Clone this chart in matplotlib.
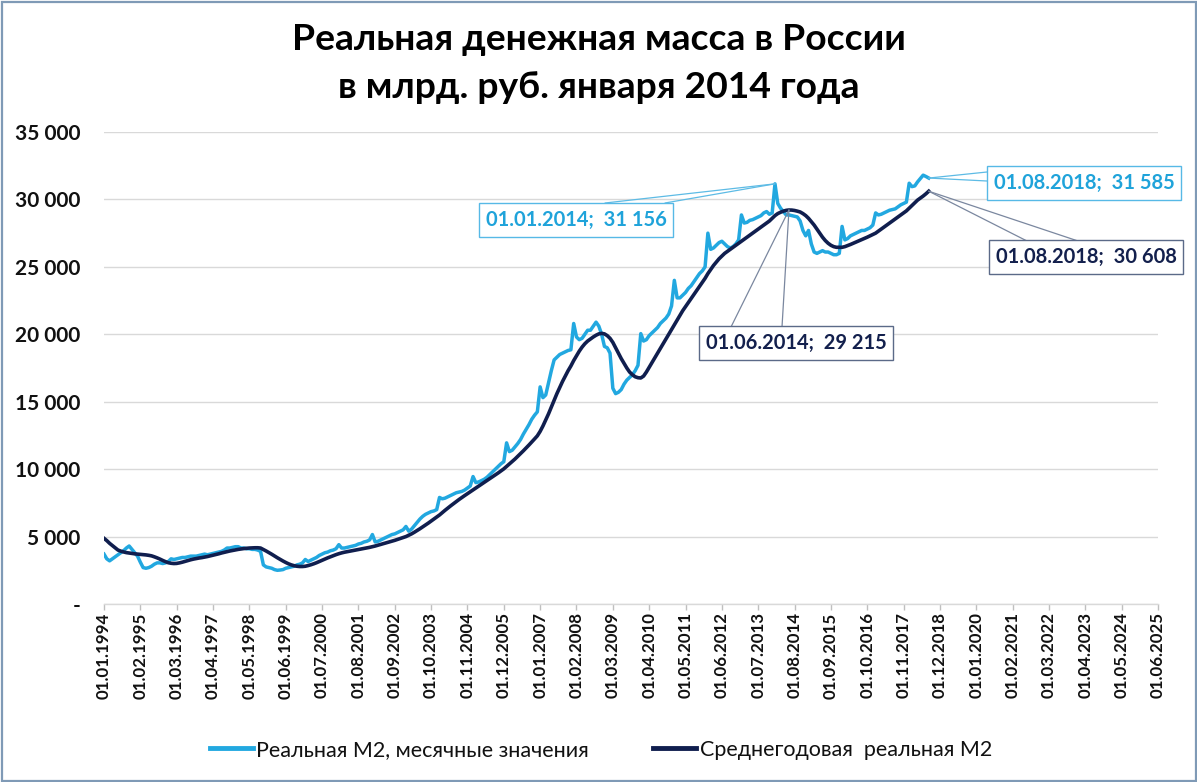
import matplotlib
matplotlib.use("Agg")
import matplotlib.pyplot as plt
import numpy as np
from matplotlib.ticker import FuncFormatter, FixedLocator
from matplotlib.patches import Rectangle

# ---------------- data (monthly, 01.01.1994 .. 01.08.2018) ----------------
start_label = "01.01.1994"
real_m2_monthly = [
    3700, 3350, 3200, 3350, 3500, 3650, 3800, 3950, 4150, 4300, 4050, 3800,          # 1994
    3550, 3100, 2700, 2650, 2700, 2800, 2950, 3050, 3050, 3000, 3050, 3150,          # 1995
    3350, 3300, 3350, 3400, 3450, 3450, 3500, 3550, 3550, 3550, 3600, 3650,          # 1996
    3700, 3650, 3700, 3750, 3800, 3850, 3900, 4000, 4150, 4150, 4200, 4250,          # 1997
    4250, 4150, 4150, 4100, 4100, 4050, 4050, 4000, 3900, 2900, 2750, 2700,          # 1998
    2650, 2550, 2500, 2520, 2550, 2650, 2700, 2750, 2800, 2900, 2950, 3050,          # 1999
    3300, 3150, 3250, 3350, 3450, 3600, 3700, 3800, 3850, 3950, 4000, 4100,          # 2000
    4400, 4150, 4150, 4200, 4250, 4300, 4350, 4450, 4500, 4600, 4650, 4750,          # 2001
    5150, 4600, 4650, 4750, 4850, 4950, 5050, 5150, 5200, 5300, 5400, 5500,          # 2002
    5750, 5400, 5550, 5800, 6050, 6300, 6500, 6650, 6750, 6850, 6900, 7000,          # 2003
    7900, 7800, 7850, 7950, 8050, 8150, 8250, 8300, 8350, 8450, 8600, 8750,          # 2004
    9450, 9000, 9050, 9150, 9250, 9400, 9600, 9800, 10000, 10200, 10400, 10550,      # 2005
    11950, 11300, 11400, 11650, 11900, 12200, 12600, 12950, 13300, 13700, 14000, 14250,  # 2006
    16100, 15300, 15500, 16400, 17300, 18100, 18300, 18500, 18600, 18700, 18800, 18850,  # 2007
    20800, 19800, 19600, 19700, 20000, 20300, 20300, 20600, 20900, 20600, 20000, 19100,  # 2008
    19000, 18600, 16000, 15600, 15700, 15900, 16300, 16600, 16800, 17000, 17300, 17700,  # 2009
    20050, 19500, 19600, 19900, 20100, 20300, 20500, 20800, 21000, 21200, 21500, 22100,  # 2010
    24000, 22700, 22700, 22900, 23100, 23400, 23600, 23900, 24200, 24500, 24700, 25000,  # 2011
    27500, 26300, 26400, 26600, 26800, 26900, 26700, 26500, 26400, 26500, 26700, 27000,  # 2012
    28850, 28250, 28300, 28450, 28500, 28600, 28700, 28800, 29000, 29100, 28900, 29000,  # 2013
    31156, 29700, 29350, 29100, 28850, 28850, 28800, 28750, 28700, 28400, 27700, 27300,  # 2014
    27700, 26700, 26100, 26000, 26100, 26200, 26100, 26100, 26000, 25900, 25900, 26000,  # 2015
    28000, 27000, 27100, 27300, 27400, 27500, 27600, 27700, 27700, 27800, 27900, 28100,  # 2016
    29000, 28850, 28900, 29000, 29100, 29200, 29250, 29300, 29450, 29600, 29700, 29800,  # 2017
    31200, 30950, 31000, 31300, 31550, 31800, 31700, 31585,                              # 2018
]
real_m2_avg = [
    4870, 4700, 4500, 4330, 4150, 4000, 3920, 3860, 3810, 3780, 3750, 3720,          # 1994
    3700, 3680, 3660, 3640, 3610, 3570, 3500, 3420, 3330, 3230, 3140, 3060,          # 1995
    3020, 3000, 3010, 3050, 3100, 3160, 3220, 3280, 3330, 3370, 3410, 3440,          # 1996
    3480, 3520, 3570, 3620, 3670, 3720, 3780, 3830, 3880, 3930, 3970, 4010,          # 1997
    4050, 4080, 4110, 4130, 4150, 4160, 4170, 4170, 4150, 4040, 3930, 3810,          # 1998
    3690, 3560, 3430, 3310, 3190, 3080, 2980, 2900, 2840, 2800, 2780, 2780,          # 1999
    2800, 2850, 2910, 2980, 3060, 3150, 3240, 3330, 3420, 3500, 3580, 3660,          # 2000
    3730, 3790, 3840, 3880, 3920, 3960, 4000, 4040, 4080, 4120, 4160, 4200,          # 2001
    4250, 4300, 4360, 4420, 4480, 4540, 4600, 4660, 4720, 4790, 4860, 4930,          # 2002
    5000, 5100, 5200, 5320, 5450, 5580, 5720, 5860, 6000, 6150, 6300, 6450,          # 2003
    6600, 6780, 6950, 7120, 7280, 7440, 7600, 7750, 7900, 8040, 8180, 8320,          # 2004
    8460, 8600, 8740, 8880, 9020, 9160, 9300, 9440, 9580, 9720, 9870, 10020,         # 2005
    10200, 10380, 10560, 10750, 10950, 11150, 11360, 11570, 11790, 12010, 12240, 12470,  # 2006
    12800, 13200, 13650, 14100, 14600, 15100, 15600, 16050, 16500, 16900, 17300, 17650,  # 2007
    18050, 18400, 18750, 19050, 19300, 19500, 19650, 19800, 19930, 20030, 20070, 20030,  # 2008
    19900, 19700, 19400, 19000, 18600, 18200, 17850, 17500, 17200, 17000, 16850, 16780,  # 2009
    16760, 16900, 17200, 17550, 17900, 18250, 18600, 18950, 19300, 19650, 20000, 20350,  # 2010
    20700, 21050, 21400, 21750, 22050, 22350, 22650, 22950, 23250, 23550, 23850, 24150,  # 2011
    24500, 24800, 25100, 25350, 25600, 25800, 26000, 26150, 26300, 26450, 26600, 26750,  # 2012
    26900, 27050, 27200, 27350, 27500, 27650, 27800, 27950, 28100, 28250, 28400, 28600,  # 2013
    28800, 28950, 29050, 29130, 29190, 29215, 29210, 29180, 29130, 29070, 28950, 28800,  # 2014
    28600, 28350, 28100, 27800, 27500, 27200, 26950, 26750, 26600, 26500, 26450, 26450,  # 2015
    26450, 26500, 26580, 26660, 26750, 26840, 26930, 27020, 27110, 27200, 27300, 27400,  # 2016
    27500, 27650, 27800, 27950, 28100, 28250, 28400, 28550, 28700, 28850, 29000, 29150,  # 2017
    29350, 29550, 29750, 29950, 30100, 30250, 30420, 30608,                              # 2018
]
x_tick_labels = [
    "01.01.1994", "01.02.1995", "01.03.1996", "01.04.1997", "01.05.1998", "01.06.1999",
    "01.07.2000", "01.08.2001", "01.09.2002", "01.10.2003", "01.11.2004", "01.12.2005",
    "01.01.2007", "01.02.2008", "01.03.2009", "01.04.2010", "01.05.2011", "01.06.2012",
    "01.07.2013", "01.08.2014", "01.09.2015", "01.10.2016", "01.11.2017", "01.12.2018",
    "01.01.2020", "01.02.2021", "01.03.2022", "01.04.2023", "01.05.2024", "01.06.2025",
]
y_ticks = [0, 5000, 10000, 15000, 20000, 25000, 30000, 35000]
series_names = ["Реальная М2, месячные значения", "Среднегодовая  реальная М2"]
title_lines = ["Реальная денежная масса в России", "в млрд. руб. января 2014 года"]

# annotations: (label date, month index, value, series)
annotations = [
    ("01.01.2014", 240, 31156, "light"),
    ("01.08.2018", 295, 31585, "light"),
    ("01.08.2018", 295, 30608, "dark"),
    ("01.06.2014", 245, 29215, "dark"),
]

# ---------------- style ----------------
FONT = ["Lato", "Open Sans", "DejaVu Sans"]
LIGHT = "#22A8E0"
DARK = "#101E4E"
W, H = 1197, 782

def month_index_of(label):
    d, m, y = label.split(".")
    return (int(y) - 1994) * 12 + int(m) - 1

fig = plt.figure(figsize=(W / 100, H / 100), dpi=100)
fig.patch.set_facecolor("white")

ax = fig.add_axes([104 / W, (H - 604) / H, 1054 / W, 472 / H])
x_light = np.arange(len(real_m2_monthly))
x_avg = np.arange(len(real_m2_avg))
ax.plot(x_light, real_m2_monthly, color=LIGHT, lw=2.5, solid_joinstyle="round",
        label=series_names[0], zorder=3)
ax.plot(x_avg, real_m2_avg, color=DARK, lw=2.6, solid_joinstyle="round",
        label=series_names[1], zorder=4)

xt = [month_index_of(l) for l in x_tick_labels]
ax.set_xlim(xt[0], xt[-1])
ax.set_ylim(0, 35000)
ax.xaxis.set_major_locator(FixedLocator(xt))
ax.set_xticklabels(x_tick_labels, rotation=90, fontsize=12.2, fontweight="bold",
                   family=FONT, color="#111111")
ax.yaxis.set_major_locator(FixedLocator(y_ticks))
ax.yaxis.set_major_formatter(FuncFormatter(
    lambda v, p: "-" if v == 0 else f"{int(v):,}".replace(",", " ")))
ax.tick_params(axis="y", length=0, pad=17, labelsize=15, labelcolor="#111111")
for t in ax.get_yticklabels():
    t.set_family(FONT)
    t.set_fontweight("bold")
ax.tick_params(axis="x", length=4, width=1, color="#BFBFBF", pad=2, direction="out")

ax.yaxis.grid(True, color="#D9D9D9", lw=1)
ax.set_axisbelow(True)
for s in ["top", "right", "left"]:
    ax.spines[s].set_visible(False)
ax.spines["bottom"].set_color("#D9D9D9")
ax.spines["bottom"].set_linewidth(1)

# title
fig.text(0.5, 1 - 40 / H, title_lines[0], ha="center", va="center", fontsize=26.8,
         fontweight="bold", family=FONT, color="#000000")
fig.text(0.5, 1 - 88 / H, title_lines[1], ha="center", va="center", fontsize=26.8,
         fontweight="bold", family=FONT, color="#000000")

# annotations (box centre in figure pixels from top, leader ends)
box_specs = [
    ((576, 220), [(605, 203), (665, 203)]),
    ((1084, 183), [(987, 172), (987, 181)]),
    ((1086, 257), [(1027, 241), (1078, 241)]),
    ((796, 343), [(731, 327), (782, 327)]),
]
for (lab, mi, val, ser), ((cx, cy), ends) in zip(annotations, box_specs):
    txt_col = "#1FA3DA" if ser == "light" else "#13204D"
    edge_col = "#57B9E6" if ser == "light" else "#5B6A88"
    line_col = "#5DBBE5" if ser == "light" else "#7A879F"
    text = f"{lab};  {val:,}".replace(",", " ")
    fig.text(cx / W, 1 - cy / H, text, ha="center", va="center", fontsize=14.5,
             fontweight="bold", family=FONT, color=txt_col, zorder=10,
             bbox=dict(boxstyle="square,pad=0.35", fc="white", ec=edge_col, lw=1.0))
    for ex, ey in ends:
        ax.annotate("", xy=(mi, val), xycoords="data",
                    xytext=(ex, H - ey), textcoords="figure pixels",
                    arrowprops=dict(arrowstyle="-", color=line_col, lw=0.9,
                                    shrinkA=0, shrinkB=0), zorder=9)

# legend
leg = fig.legend(loc="center", bbox_to_anchor=(0.502, 32 / H), ncol=2, frameon=False,
                 handlelength=2.0, handletextpad=0.15, columnspacing=3.0,
                 prop={"family": FONT, "size": 15.5})
for line in leg.get_lines():
    line.set_linewidth(3.5)
for t in leg.get_texts():
    t.set_color("#111111")

# outer frame
fig.patches.append(Rectangle((1.5 / W, 1.5 / H), 1 - 3 / W, 1 - 3 / H,
                             transform=fig.transFigure, fill=False,
                             edgecolor="#7F9AB6", lw=1.6, zorder=20))

fig.savefig("out.png", dpi=100, facecolor="white")
